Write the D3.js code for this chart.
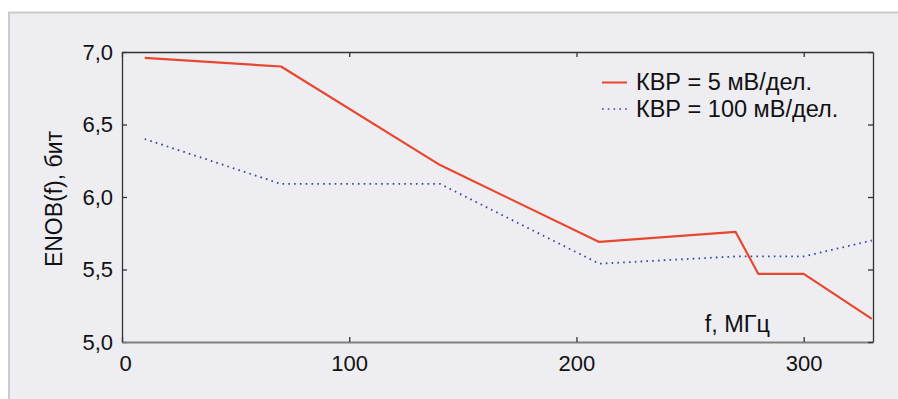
<!DOCTYPE html>
<html>
<head>
<meta charset="utf-8">
<script src="https://cdn.jsdelivr.net/npm/d3@7"></script>
<style>
  body { margin: 0; background: #fff; }
  svg { display: block; font-family: "Liberation Sans", Arial, sans-serif; }
</style>
</head>
<body>
<div id="chart"></div>
<script>
// frequency, MHz
const freqRed = [10, 70, 140, 210, 270, 280, 300, 330];
const enobRed = [6.96, 6.90, 6.22, 5.69, 5.76, 5.47, 5.47, 5.16];
const freqBlue = [10, 70, 140, 210, 270, 300, 330];
const enobBlue = [6.40, 6.09, 6.09, 5.54, 5.59, 5.59, 5.70];

const seriesNames = ["КВР = 5 мВ/дел.", "КВР = 100 мВ/дел."];
const xTicks = [0, 100, 200, 300];
const yTicks = [5.0, 5.5, 6.0, 6.5, 7.0];

const W = 898, H = 399;
const margin = { top: 52, right: 25, bottom: 57, left: 122 };

const svg = d3.select("#chart").append("svg")
    .attr("width", W)
    .attr("height", H);

// grey panel behind the chart
svg.append("rect")
    .attr("x", 9).attr("y", 12.5)
    .attr("width", W - 9).attr("height", H - 12.5)
    .style("fill", "#eeedf2");
svg.append("line")
    .attr("x1", 9).attr("x2", 9).attr("y1", 12).attr("y2", H)
    .style("stroke", "#cbcbcb").style("stroke-width", 2);
svg.append("line")
    .attr("x1", 8).attr("x2", W).attr("y1", 12.5).attr("y2", 12.5)
    .style("stroke", "#cbcbcb").style("stroke-width", 2);

const x = d3.scaleLinear().domain([0, 330.5]).range([margin.left, W - margin.right]);
const y = d3.scaleLinear().domain([5, 7]).range([H - margin.bottom, margin.top]);

const fmt = d => d3.format(".1f")(d).replace(".", ",");

// axes, ticks pointing inwards
const gLeft = svg.append("g")
    .attr("transform", `translate(${margin.left},0)`)
    .call(d3.axisLeft(y).tickValues(yTicks).tickFormat(fmt)
        .tickSizeInner(-5).tickSizeOuter(0).tickPadding(9));
const gBottom = svg.append("g")
    .attr("transform", `translate(0,${H - margin.bottom})`)
    .call(d3.axisBottom(x).tickValues(xTicks).tickFormat(d3.format("d"))
        .tickSizeInner(-5).tickSizeOuter(0).tickPadding(13));
const gRight = svg.append("g")
    .attr("transform", `translate(${W - margin.right},0)`)
    .call(d3.axisRight(y).tickValues(yTicks).tickFormat("")
        .tickSizeInner(-5).tickSizeOuter(0));
const gTop = svg.append("g")
    .attr("transform", `translate(0,${margin.top})`)
    .call(d3.axisTop(x).tickValues(xTicks).tickFormat("")
        .tickSizeInner(-5).tickSizeOuter(0));

[gLeft, gBottom, gRight, gTop].forEach(g => {
    g.selectAll("text")
        .style("font-size", "22px")
        .style("font-family", "Liberation Sans, Arial, sans-serif")
        .style("fill", "#111");
    g.selectAll("line").style("stroke", "#333").style("stroke-width", 1.3);
    g.select(".domain").style("stroke", "#333").style("stroke-width", 1.3);
});
gBottom.select(".domain").style("stroke", "#808080").style("stroke-width", 2);
// the "0" label sits a little right of its tick in the original
gBottom.selectAll(".tick text").filter(d => d === 0).attr("dx", 3);

// lines
const lineGen = d3.line().x(d => x(d[0])).y(d => y(d[1]));

svg.append("path")
    .datum(d3.zip(freqBlue, enobBlue))
    .attr("d", lineGen)
    .style("fill", "none")
    .style("stroke", "#34479a")
    .style("stroke-width", 1.8)
    .style("stroke-dasharray", "1.6,4.2");

svg.append("path")
    .datum(d3.zip(freqRed, enobRed))
    .attr("d", lineGen)
    .style("fill", "none")
    .style("stroke", "#e8472e")
    .style("stroke-width", 2.2)
    .style("stroke-linejoin", "round");

// axis titles
svg.append("text")
    .attr("transform", "translate(62,199) rotate(-90)")
    .style("text-anchor", "middle")
    .style("font-size", "23px")
    .style("fill", "#111")
    .text("ENOB(f), бит");

svg.append("text")
    .attr("x", 770).attr("y", 331.5)
    .style("text-anchor", "end")
    .style("font-size", "23.5px")
    .style("fill", "#111")
    .text("f, МГц");

// legend
const legend = svg.append("g").attr("transform", "translate(602,0)");
const legendStyles = [
    { color: "#e8472e", dash: null, width: 2 },
    { color: "#34479a", dash: "1.6,4.2", width: 1.6 }
];
seriesNames.forEach((name, i) => {
    const ly = 82.5 + i * 26.5;
    legend.append("line")
        .attr("x1", 0).attr("x2", 25)
        .attr("y1", ly).attr("y2", ly)
        .style("stroke", legendStyles[i].color)
        .style("stroke-width", legendStyles[i].width)
        .style("stroke-dasharray", legendStyles[i].dash);
    legend.append("text")
        .attr("x", 34).attr("y", ly + 7.5)
        .style("font-size", "23.5px")
        .style("fill", "#111")
        .text(name);
});
</script>
</body>
</html>
